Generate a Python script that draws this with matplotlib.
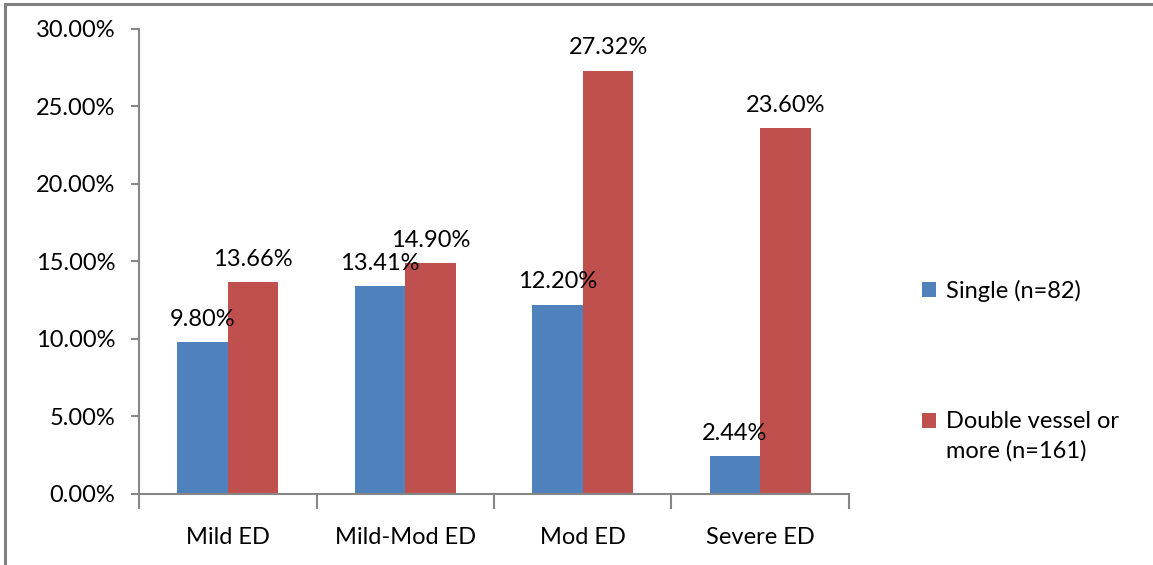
import matplotlib.pyplot as plt
import numpy as np
from matplotlib.lines import Line2D
from matplotlib.patches import Rectangle
from matplotlib.legend_handler import HandlerPatch

categories = ['Mild ED', 'Mild-Mod ED', 'Mod ED', 'Severe ED']
single = [9.80, 13.41, 12.20, 2.44]
double = [13.66, 14.90, 27.32, 23.60]
series_names = ['Single (n=82)', 'Double vessel or\nmore (n=161)']

plt.rcParams['font.family'] = ['Lato', 'DejaVu Sans']
FS = 17

fig = plt.figure(figsize=(11.53, 5.65), dpi=100)
ax = fig.add_axes([0.1206, 0.1257, 0.6157, 0.823])

x = np.arange(len(categories))
w = 0.285
b1 = ax.bar(x - w / 2, single, w, color='#4F81BD')
b2 = ax.bar(x + w / 2, double, w, color='#C0504D')

# data labels above each bar
for bars, vals in ((b1, single), (b2, double)):
    for rect, v in zip(bars, vals):
        ax.annotate('%.2f%%' % v, (rect.get_x() + rect.get_width() / 2, v),
                    xytext=(0, 9), textcoords='offset points',
                    ha='center', va='bottom', fontsize=FS)

ax.set_xlim(-0.5, len(categories) - 0.5)
ax.set_ylim(0, 30)
ax.set_yticks(np.arange(0, 31, 5))
ax.set_yticklabels(['%.2f%%' % t for t in np.arange(0, 31, 5)], fontsize=FS)
ax.set_xticks(x)
ax.set_xticklabels(categories, fontsize=FS)
ax.tick_params(axis='x', length=0, pad=24)
ax.tick_params(axis='y', length=6, width=1.5, color='#868686', pad=11)

# category boundary ticks on x axis
for xb in np.arange(-0.5, len(categories), 1):
    ax.plot([xb, xb], [0, -0.9], color='#868686', lw=1.5, clip_on=False)

for s in ('top', 'right'):
    ax.spines[s].set_visible(False)
for s in ('left', 'bottom'):
    ax.spines[s].set_color('#868686')
    ax.spines[s].set_linewidth(1.5)


# legend square aligned with first line of a two-line label
def top_square(legend, orig_handle, xdescent, ydescent, width, height, fontsize):
    return Rectangle((-xdescent, -ydescent + 11.5), width, height)


h1, h2 = b1.patches[0], b2.patches[0]
leg = ax.legend([h1, h2], series_names, loc='center left',
                bbox_to_anchor=(1.073, 0.265), frameon=False,
                fontsize=FS, handlelength=0.6, handleheight=0.6, handletextpad=0.4,
                labelspacing=4.6,
                handler_map={h2: HandlerPatch(patch_func=top_square)})
for t in leg.get_texts():
    t.set_linespacing(1.45)

# outer chart frame (left and top edges visible)
fig.add_artist(Line2D([0.0047, 0.0047], [0, 0.993], color='#808080', lw=2.2,
                      transform=fig.transFigure))
fig.add_artist(Line2D([0.0047, 1.0], [0.993, 0.993], color='#808080', lw=2.2,
                      transform=fig.transFigure))

fig.savefig('out.png', dpi=100)
